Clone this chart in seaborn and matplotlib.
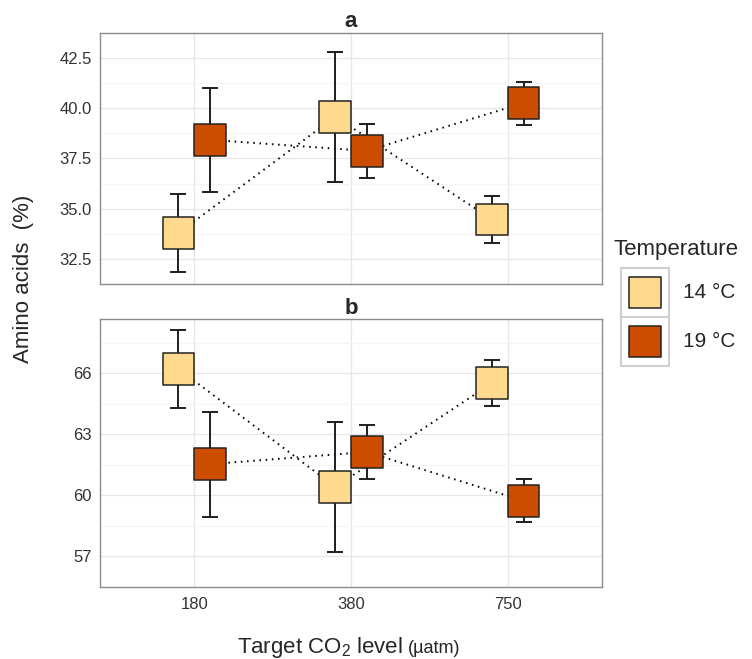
import matplotlib
matplotlib.use('Agg')
import matplotlib.pyplot as plt
from matplotlib.patches import Rectangle
import seaborn as sns
import pandas as pd
import numpy as np

# 数据
co2_levels = ['180', '380', '750']
temps = ['14 °C', '19 °C']
temp_colors = ['#FED98E', '#CC4C02']

a_14_mean = [33.79, 39.58, 34.46]
a_14_err = [1.93, 3.23, 1.15]
a_19_mean = [38.43, 37.88, 40.26]
a_19_err = [2.58, 1.35, 1.07]
b_14_mean = [66.22, 60.41, 65.53]
b_14_err = [1.92, 3.22, 1.15]
b_19_mean = [61.53, 62.13, 59.73]
b_19_err = [2.58, 1.33, 1.07]

a_ticks = [32.5, 35.0, 37.5, 40.0, 42.5]
b_ticks = [57, 60, 63, 66]
a_ylim = (31.35, 43.36)
b_ylim = (56.7, 68.66)

rows = []
for panel, temp, means, errs in [('a', temps[0], a_14_mean, a_14_err),
                                 ('a', temps[1], a_19_mean, a_19_err),
                                 ('b', temps[0], b_14_mean, b_14_err),
                                 ('b', temps[1], b_19_mean, b_19_err)]:
    for c, m, e in zip(co2_levels, means, errs):
        rows.append({'panel': panel, 'temp': temp, 'co2': c, 'mean': m, 'err': e})
df = pd.DataFrame(rows)

# 分类位置 + 按温度错开
dodge = 0.2
df['xpos'] = (df['co2'].map({c: i for i, c in enumerate(co2_levels)})
              + df['temp'].map({t: (i - 0.5) * dodge for i, t in enumerate(temps)}))

sns.set_style('white')
plt.rcParams['font.family'] = ['Liberation Sans', 'DejaVu Sans']
plt.rcParams['mathtext.fontset'] = 'custom'
plt.rcParams['mathtext.rm'] = 'Liberation Sans'

palette = dict(zip(temps, temp_colors))

W, H = 752, 659
fig = plt.figure(figsize=(W / 100, H / 100), dpi=100)
ax_a = fig.add_axes([100 / W, 1 - 284 / H, 502 / W, 251 / H])
ax_b = fig.add_axes([100 / W, 1 - 586.7 / H, 502 / W, 267.4 / H])

panel_cfg = [
    (ax_a, 'a', a_ticks, a_ylim, [f'{v:.1f}' for v in a_ticks]),
    (ax_b, 'b', b_ticks, b_ylim, [f'{v:d}' for v in b_ticks]),
]

for ax, name, ticks, ylim, ticklabels in panel_cfg:
    sub = df[df['panel'] == name]

    # 虚线连接
    sns.lineplot(data=sub, x='xpos', y='mean', units='temp', estimator=None,
                 color='black', lw=1.4, ls=(0, (0.8, 2.4)), ax=ax, zorder=1)
    # 误差条
    ax.errorbar(sub['xpos'], sub['mean'], yerr=sub['err'], fmt='none',
                ecolor='#1e1e1e', elinewidth=1.4, capsize=5.8, capthick=1.4, zorder=2)
    # 方块点
    sns.scatterplot(data=sub, x='xpos', y='mean', hue='temp', hue_order=temps,
                    palette=palette, marker='s', s=520, edgecolor='#222222',
                    linewidth=1.1, legend=False, ax=ax, zorder=3)

    ax.set_xlim(-0.6, 2.6)
    ax.set_xticks(range(len(co2_levels)))
    ax.set_xticklabels(co2_levels if name == 'b' else [])
    ax.set_ylim(*ylim)
    ax.set_yticks(ticks)
    ax.set_yticklabels(ticklabels)
    step = ticks[1] - ticks[0]
    minor = [t + step / 2 for t in [ticks[0] - step] + ticks]
    ax.set_yticks(minor, minor=True)
    ax.tick_params(axis='y', which='minor', length=0)
    ax.grid(which='major', color='#E6E6E6', lw=0.9)
    ax.grid(which='minor', axis='y', color='#F5F5F5', lw=0.9)
    ax.set_axisbelow(True)
    for sp in ax.spines.values():
        sp.set_color('#8c8c8c')
        sp.set_linewidth(1.0)
    ax.tick_params(which='major', length=3.5, width=1, color='#333333',
                   labelsize=12, labelcolor='#333333', pad=2.5)
    ax.tick_params(axis='x', pad=4)
    ax.set_xlabel('')
    ax.set_ylabel('')
    ax.set_title(name, fontweight='bold', fontsize=16, pad=4)

# 坐标轴标题
fig.text(24 / W, 1 - 279 / H, 'Amino acids  (%)', rotation=90,
         va='center', ha='center', fontsize=16)

t1 = fig.text(0, 6 / H, 'Target CO$_\\mathregular{2}$ level', fontsize=16, va='baseline')
t2 = fig.text(0, 6 / H, '(µatm)', fontsize=13, va='baseline')
r = fig.canvas.get_renderer()
w1 = t1.get_window_extent(r).width
w2 = t2.get_window_extent(r).width
gap = 5
x0 = 349 - (w1 + gap + w2) / 2
t1.set_x(x0 / W)
t2.set_x((x0 + w1 + gap) / W)

# 图例
fig.text(613 / W, 1 - 255 / H, 'Temperature', fontsize=16, va='baseline')
lax = fig.add_axes([620.7 / W, 1 - 366 / H, 48.3 / W, 98 / H])
for i, t in enumerate(temps):
    lax.add_patch(Rectangle((0, i), 1, 1, fc='white', ec='#d0d0d0', lw=1.5, clip_on=False))
    lax.text(1.28, i + 0.5, t, va='center', ha='left', fontsize=15)
sns.scatterplot(x=[0.5] * len(temps), y=[i + 0.5 for i in range(len(temps))],
                hue=temps, hue_order=temps, palette=palette, marker='s', s=520,
                edgecolor='#222222', linewidth=1.1, legend=False, ax=lax, zorder=3)
lax.set_xlim(0, 1)
lax.set_ylim(len(temps), 0)
lax.axis('off')

fig.savefig('out.png', dpi=100)
plt.close(fig)
